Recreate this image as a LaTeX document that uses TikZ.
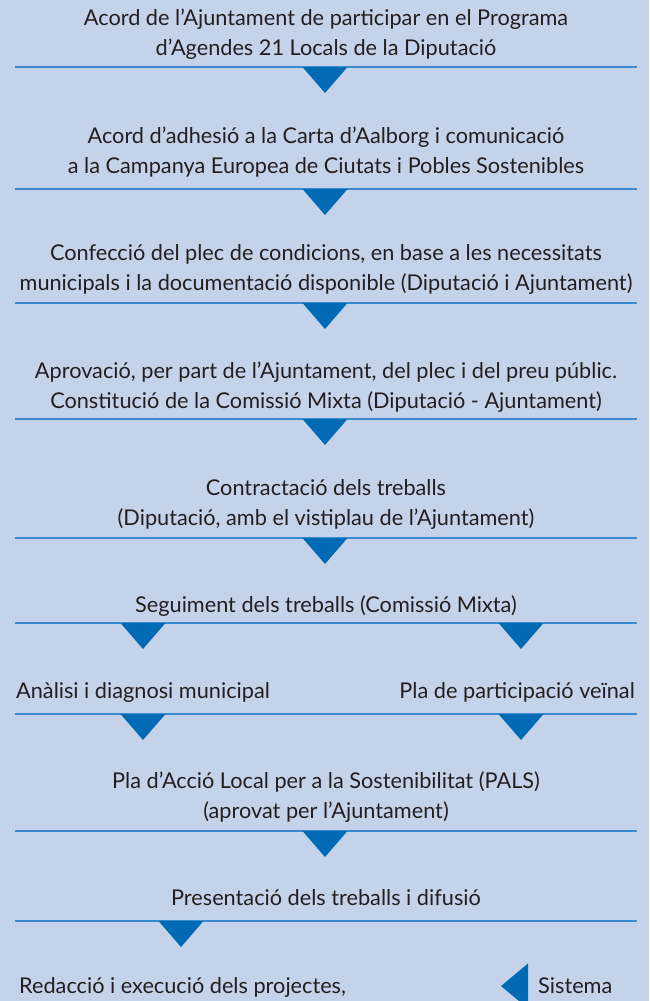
\documentclass[tikz,border=0pt]{standalone}
\usepackage{fontspec}
\setmainfont{Lato}
\definecolor{bgblue}{RGB}{197,211,234}
\definecolor{ruleblue}{RGB}{56,140,205}
\definecolor{triblue}{RGB}{0,106,181}
\definecolor{txtgrey}{RGB}{35,31,32}
\newcommand\downtri[1]{\fill[triblue] (#1) ++(-22.5,0) -- ++(45,0) -- ++(-22.5,26) -- cycle;}
\begin{document}
\begin{tikzpicture}[x=1pt,y=-1pt,
  lbl/.style={font=\fontsize{21.7}{29.5}\selectfont, text=txtgrey, align=center, inner sep=0pt, anchor=base},
  rule/.style={draw=ruleblue, line width=1.5pt}]
\useasboundingbox (0,0) rectangle (649,1001);
\clip (0,0) rectangle (649,1001);
\fill[bgblue] (0,0) rectangle (649,1001);

% texts (base anchor = baseline of the last line)
\node[lbl] (s1) at (326,55) {Acord de l’Ajuntament de participar en el Programa\\d’Agendes 21 Locals de la Diputació};
\node[lbl] (s2) at (326,173) {Acord d’adhesió a la Carta d’Aalborg i comunicació\\a la Campanya Europea de Ciutats i Pobles Sostenibles};
\node[lbl] (s3) at (326,290) {Confecció del plec de condicions, en base a les necessitats\\municipals i la documentació disponible (Diputació i Ajuntament)};
\node[lbl] (s4) at (326,408) {Aprovació, per part de l’Ajuntament, del plec i del preu públic.\\Constitució de la Comissió Mixta (Diputació - Ajuntament)};
\node[lbl] (s5) at (326,525) {Contractació dels treballs\\(Diputació, amb el vistiplau de l’Ajuntament)};
\node[lbl] (s6) at (326,612) {Seguiment dels treballs (Comissió Mixta)};
\node[lbl, anchor=base west] (s7a) at (16,698) {Anàlisi i diagnosi municipal};
\node[lbl, anchor=base east] (s7b) at (635,698) {Pla de participació veïnal};
\node[lbl] (s8) at (326,818) {Pla d’Acció Local per a la Sostenibilitat (PALS)\\(aprovat per l’Ajuntament)};
\node[lbl] (s9) at (326,905) {Presentació dels treballs i difusió};
\node[lbl, anchor=base west] (s10a) at (19,993) {Redacció i execució dels projectes,};
\node[lbl, anchor=base west] (s10b) at (538,993) {Sistema};

% rules
\foreach \y/\n in {67/1,189/2,303/3,419/4,538/5,623/6,714/7,831/8,921/9}{
  \coordinate (r\n a) at (14.5,\y);
  \coordinate (r\n b) at (636.5,\y);
  \draw[rule] (r\n a) -- (r\n b);
}

% triangles
\coordinate (t1) at (325,67);
\coordinate (t2) at (325,189);
\coordinate (t3) at (325,303);
\coordinate (t4) at (325,419);
\coordinate (t5) at (325,538);
\coordinate (t6a) at (143,623);
\coordinate (t6b) at (521,623);
\coordinate (t7a) at (143,714);
\coordinate (t7b) at (521,714);
\coordinate (t8) at (325,831);
\coordinate (t9) at (181,921);
\foreach \t in {t1,t2,t3,t4,t5,t6a,t6b,t7a,t7b,t8,t9}{\downtri{\t}}
\coordinate (t10) at (501,986);
\fill[triblue] (t10) -- ++(27,-22.5) -- ++(0,45) -- cycle;
\end{tikzpicture}
\end{document}
